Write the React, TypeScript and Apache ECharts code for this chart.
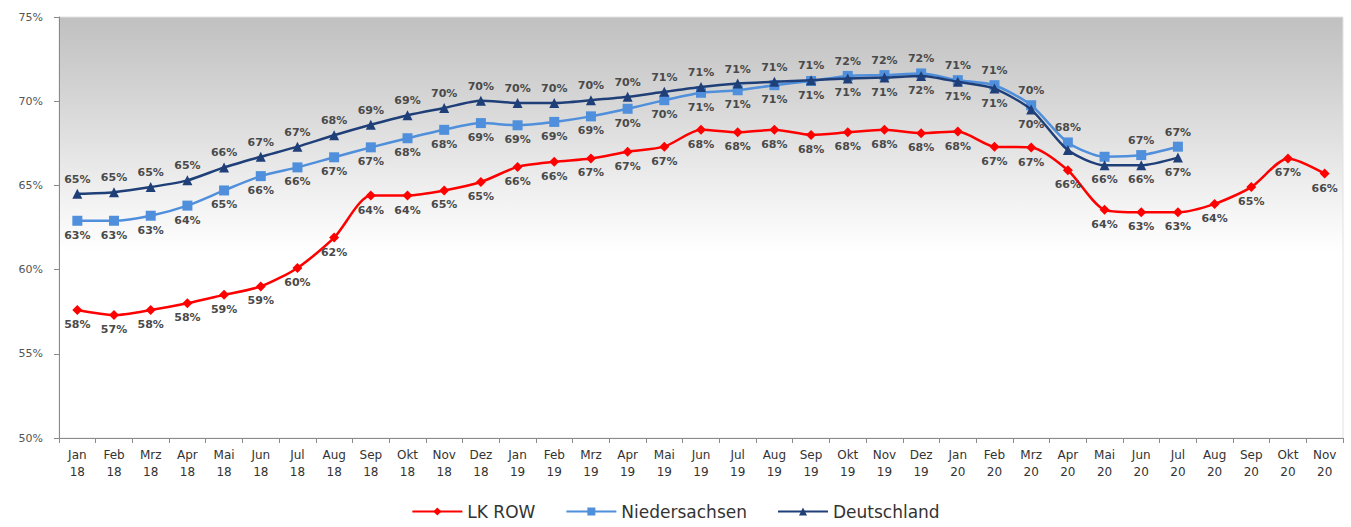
import React, { useEffect, useRef } from "react";
import * as echarts from "echarts";

const months = ["Jan", "Feb", "Mrz", "Apr", "Mai", "Jun", "Jul", "Aug", "Sep", "Okt", "Nov", "Dez"];
const categories: string[] = [];
for (let y = 18; y <= 20; y++) {
  for (let m = 0; m < 12; m++) {
    if (y === 20 && m > 10) break;
    categories.push(months[m] + "\n" + y);
  }
}

const lkRow = [
  57.6, 57.3, 57.6, 58.0, 58.5, 59.0, 60.1, 61.9, 64.4, 64.4, 64.7, 65.2,
  66.1, 66.4, 66.6, 67.0, 67.3, 68.3, 68.15, 68.3, 68.0, 68.15, 68.3, 68.1,
  68.2, 67.3, 67.25, 65.9, 63.55, 63.4, 63.4, 63.9, 64.9, 66.6, 65.7,
];

const niedersachsen = [
  62.9, 62.9, 63.2, 63.8, 64.7, 65.55, 66.07, 66.67, 67.26, 67.8, 68.3, 68.7,
  68.57, 68.77, 69.1, 69.55, 70.06, 70.5, 70.65, 70.95, 71.2, 71.5, 71.55, 71.65,
  71.25, 70.95, 69.76, 67.55, 66.7, 66.8, 67.3,
];

const deutschland = [
  64.5, 64.6, 64.9, 65.3, 66.07, 66.7, 67.3, 67.98, 68.6, 69.17, 69.6, 70.02,
  69.9, 69.9, 70.06, 70.26, 70.56, 70.85, 71.05, 71.15, 71.25, 71.35, 71.4, 71.5,
  71.15, 70.75, 69.5, 67.1, 66.2, 66.2, 66.65,
];

const yTicks = [50, 55, 60, 65, 70, 75];

const SWITCH = 21; // from Okt 19 on, the label sides swap
const HIDE_N = [28];
const HIDE_D = [27];

export default function App() {
  const ref = useRef<HTMLDivElement>(null);
  useEffect(() => {
    if (!ref.current) return;
    const chart = echarts.init(ref.current, null, { renderer: "svg" });
    const labelStyle = {
      show: true,
      fontFamily: "DejaVu Sans",
      fontSize: 11,
      fontWeight: "bold" as const,
      color: "#4a4a4a",
      distance: 4,
      formatter: (p: any) => Math.round(p.value) + "%",
    };
    const nData = niedersachsen.map((v, i) => {
      const item: any = { value: v };
      if (HIDE_N.includes(i)) item.label = { show: false };
      else if (i >= SWITCH) item.label = { position: "top" };
      return item;
    });
    const dData = deutschland.map((v, i) => {
      const item: any = { value: v };
      if (HIDE_D.includes(i)) item.label = { show: false };
      else if (i >= SWITCH) item.label = { position: "bottom" };
      return item;
    });
    chart.setOption({
      animation: false,
      textStyle: { fontFamily: "DejaVu Sans" },
      grid: {
        left: 59,
        right: 8,
        top: 17,
        bottom: 89,
        show: true,
        borderWidth: 1,
        borderColor: "#e2e2e2",
        backgroundColor: new echarts.graphic.LinearGradient(0, 0, 0, 1, [
          { offset: 0, color: "#c0c0c0" },
          { offset: 0.2, color: "#d6d6d6" },
          { offset: 0.4, color: "#eeeeee" },
          { offset: 0.56, color: "#ffffff" },
          { offset: 1, color: "#ffffff" },
        ]) as any,
      },
      legend: {
        bottom: 2,
        left: "center",
        itemWidth: 50,
        itemHeight: 10,
        itemGap: 30,
        textStyle: { fontFamily: "DejaVu Sans", fontSize: 17, color: "#333333" },
        data: ["LK ROW", "Niedersachsen", "Deutschland"],
      },
      xAxis: {
        type: "category",
        data: categories,
        boundaryGap: true,
        axisLine: { lineStyle: { color: "#8a8a8a", width: 1 } },
        axisTick: { show: true, length: 5, lineStyle: { color: "#8a8a8a" } },
        axisLabel: {
          interval: 0,
          fontFamily: "DejaVu Sans",
          fontSize: 12,
          color: "#333333",
          lineHeight: 17,
          margin: 8,
        },
      },
      yAxis: {
        type: "value",
        min: yTicks[0],
        max: yTicks[yTicks.length - 1],
        interval: 5,
        axisLine: { show: true, lineStyle: { color: "#8a8a8a", width: 1 } },
        axisTick: { show: true, length: 5, lineStyle: { color: "#8a8a8a" } },
        splitLine: { show: false },
        axisLabel: {
          fontFamily: "DejaVu Sans",
          fontSize: 11,
          color: "#555555",
          margin: 16,
          formatter: (v: number) => v + "%",
        },
      },
      series: [
        {
          name: "LK ROW",
          type: "line",
          data: lkRow,
          smooth: 0.25,
          symbol: "diamond",
          symbolSize: 10,
          itemStyle: { color: "#ff0000" },
          lineStyle: { color: "#ff0000", width: 2.5 },
          label: { ...labelStyle, position: "bottom" },
          z: 3,
        },
        {
          name: "Niedersachsen",
          type: "line",
          data: nData,
          smooth: 0.25,
          symbol: "rect",
          symbolSize: 10,
          itemStyle: { color: "#4f8fdb" },
          lineStyle: { color: "#4f8fdb", width: 2.5 },
          label: { ...labelStyle, position: "bottom" },
          z: 4,
        },
        {
          name: "Deutschland",
          type: "line",
          data: dData,
          smooth: 0.25,
          symbol: "triangle",
          symbolSize: 10,
          itemStyle: { color: "#1f3f78" },
          lineStyle: { color: "#1f3f78", width: 2.5 },
          label: { ...labelStyle, position: "top" },
          z: 5,
        },
      ],
    });
    return () => chart.dispose();
  }, []);
  return (
    <div
      ref={ref}
      style={{ position: "absolute", left: 0, top: 0, width: 1351, height: 527 }}
    />
  );
}
